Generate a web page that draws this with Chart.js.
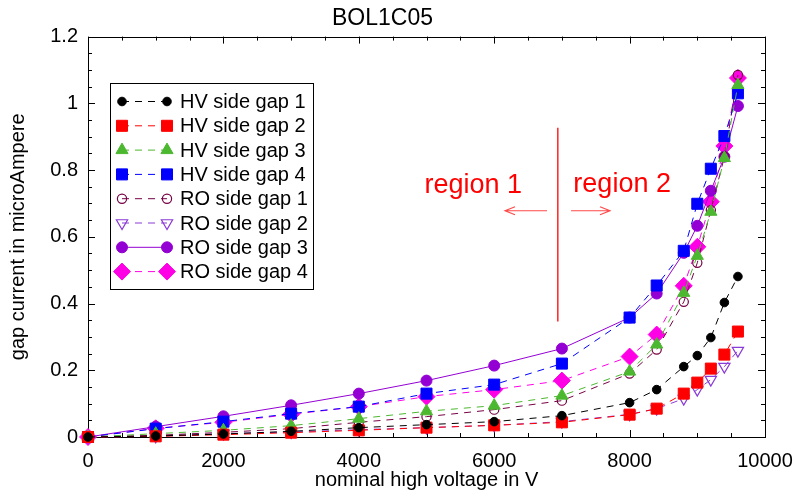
<!DOCTYPE html>
<html>
<head>
<meta charset="utf-8">
<script src="https://cdn.jsdelivr.net/npm/chart.js@4.4.0/dist/chart.umd.min.js"></script>
<style>
  html, body { margin: 0; background: #fff; }
</style>
</head>
<body>
<canvas id="gapChart" width="794" height="497"></canvas>
<script>
// nominal HV set points (V)
const voltage = [0, 1000, 2000, 3000, 4000, 5000, 6000, 7000, 8000, 8400, 8800, 9000, 9200, 9400, 9600];

// gap currents in microAmpere
const hvGap1 = [0, 0.003, 0.009, 0.017, 0.028, 0.037, 0.046, 0.064, 0.103, 0.142, 0.211, 0.244, 0.298, 0.403, 0.481];
const hvGap2 = [0, 0.002, 0.007, 0.013, 0.020, 0.028, 0.035, 0.044, 0.067, 0.085, 0.130, 0.163, 0.205, 0.247, 0.316];
const hvGap3 = [0, 0.010, 0.020, 0.034, 0.055, 0.077, 0.094, 0.124, 0.196, 0.277, 0.432, 0.543, 0.675, 0.836, 1.055];
const hvGap4 = [0, 0.025, 0.046, 0.070, 0.091, 0.130, 0.157, 0.220, 0.358, 0.454, 0.558, 0.699, 0.804, 0.902, 1.030];
const roGap1 = [0, 0.005, 0.014, 0.025, 0.044, 0.061, 0.082, 0.109, 0.190, 0.262, 0.405, 0.522, 0.680, 0.840, 1.085];
const roGap2 = [0, 0.002, 0.010, 0.015, 0.022, 0.028, 0.035, 0.046, 0.068, 0.085, 0.115, 0.142, 0.172, 0.211, 0.259];
const roGap3 = [0, 0.031, 0.062, 0.095, 0.130, 0.169, 0.214, 0.265, 0.358, 0.430, 0.552, 0.633, 0.738, 0.840, 0.992];
const roGap4 = [0, 0.026, 0.044, 0.068, 0.091, 0.121, 0.142, 0.169, 0.241, 0.307, 0.453, 0.570, 0.705, 0.872, 1.076];

const seriesLabels = ['HV side gap 1', 'HV side gap 2', 'HV side gap 3', 'HV side gap 4',
                      'RO side gap 1', 'RO side gap 2', 'RO side gap 3', 'RO side gap 4'];

// region separator and arrows (data coords)
const regionLineX = 6940;
const regionLineY = [0.346, 0.927];

const FONT = '"Liberation Sans", Arial, Helvetica, sans-serif';
const DASH = [7, 6];

function pts(values) {
  return voltage.map((v, i) => ({ x: v, y: values[i] }));
}

function series(label, values, color, style, radius, opts) {
  return Object.assign({
    label: label,
    data: pts(values),
    borderColor: color,
    backgroundColor: color,
    pointBorderColor: color,
    pointBackgroundColor: color,
    pointStyle: style,
    pointRadius: radius,
    pointBorderWidth: 1,
    pointRotation: 0,
    borderWidth: 1,
    borderDash: DASH,
    showLine: true,
    clip: false
  }, opts || {});
}

const datasets = [
  series(seriesLabels[0], hvGap1, '#000000', 'circle', 4.3),
  series(seriesLabels[1], hvGap2, '#ff0000', 'rect', 7.8),
  series(seriesLabels[2], hvGap3, '#4cb830', 'triangle', 7),
  series(seriesLabels[3], hvGap4, '#0000ff', 'rect', 7.8),
  series(seriesLabels[4], roGap1, '#770044', 'circle', 4.6, { pointBackgroundColor: 'rgba(0,0,0,0)', pointBorderWidth: 1.2 }),
  series(seriesLabels[5], roGap2, '#8a3ad6', 'triangle', 6.5, { pointBackgroundColor: 'rgba(0,0,0,0)', pointRotation: 180, pointBorderWidth: 1.2 }),
  series(seriesLabels[6], roGap3, '#9400d3', 'circle', 5.5, { borderDash: [] }),
  series(seriesLabels[7], roGap4, '#ff00e6', 'rectRot', 8.5)
];

function drawMarker(ctx, ds, x, y) {
  ctx.save();
  ctx.setLineDash([]);
  ctx.fillStyle = ds.pointBackgroundColor;
  ctx.strokeStyle = ds.pointBorderColor;
  ctx.lineWidth = ds.pointBorderWidth;
  Chart.helpers.drawPoint(ctx, {
    pointStyle: ds.pointStyle,
    rotation: ds.pointRotation,
    radius: ds.pointRadius,
    borderWidth: ds.pointBorderWidth
  }, x, y);
  ctx.restore();
}

// frame with inward ticks on all four sides
const framePlugin = {
  id: 'frame',
  beforeDatasetsDraw(chart) {
    const { ctx, chartArea: a, scales } = chart;
    ctx.save();
    ctx.strokeStyle = '#000';
    ctx.lineWidth = 1;
    ctx.beginPath();
    for (let v = 0; v <= 10000; v += 500) {
      const px = Math.round(scales.x.getPixelForValue(v)) + 0.5;
      const len = v % 2000 === 0 ? 7 : 4;
      ctx.moveTo(px, a.bottom); ctx.lineTo(px, a.bottom - len);
      ctx.moveTo(px, a.top); ctx.lineTo(px, a.top + len);
    }
    for (let i = 0; i <= 24; i++) {
      const py = Math.round(scales.y.getPixelForValue(i * 0.05)) + 0.5;
      const len = i % 4 === 0 ? 7 : 4;
      ctx.moveTo(a.left, py); ctx.lineTo(a.left + len, py);
      ctx.moveTo(a.right, py); ctx.lineTo(a.right - len, py);
    }
    ctx.stroke();
    ctx.strokeRect(Math.round(a.left) + 0.5, Math.round(a.top) + 0.5,
                   Math.round(a.right - a.left), Math.round(a.bottom - a.top));
    ctx.restore();
  }
};

// region 1 / region 2 annotation
const regionPlugin = {
  id: 'regions',
  beforeDatasetsDraw(chart) {
    const { ctx, scales } = chart;
    const X = v => scales.x.getPixelForValue(v);
    const Y = v => scales.y.getPixelForValue(v);
    ctx.save();
    ctx.strokeStyle = '#ff0000';
    ctx.lineWidth = 1.3;
    ctx.beginPath();
    ctx.moveTo(X(regionLineX), Y(regionLineY[0]));
    ctx.lineTo(X(regionLineX), Y(regionLineY[1]));
    ctx.stroke();

    function arrow(x0, x1, yv) {
      const y = Y(yv), a = X(x0), b = X(x1);
      const dir = b > a ? 1 : -1;
      ctx.beginPath();
      ctx.moveTo(a, y); ctx.lineTo(b, y);
      ctx.moveTo(b - dir * 10, y - 4); ctx.lineTo(b, y); ctx.lineTo(b - dir * 10, y + 4);
      ctx.stroke();
    }
    ctx.strokeStyle = '#ff4a4a';
    ctx.lineWidth = 1.2;
    arrow(6780, 6160, 0.678);
    arrow(7135, 7710, 0.678);

    ctx.fillStyle = '#ff0000';
    ctx.font = '27px ' + FONT;
    ctx.textAlign = 'center';
    ctx.textBaseline = 'middle';
    ctx.fillText('region 1', X(5690), Y(0.753));
    ctx.fillText('region 2', X(7890), Y(0.757));
    ctx.restore();
  }
};

// gnuplot-style key: marker - - - marker  label
const keyPlugin = {
  id: 'key',
  afterDatasetsDraw(chart) {
    const { ctx } = chart;
    const boxX = 110.5, boxY = 83.5, boxW = 203, boxH = 206;
    ctx.save();
    ctx.fillStyle = '#fff';
    ctx.fillRect(boxX, boxY, boxW, boxH);
    ctx.strokeStyle = '#000';
    ctx.lineWidth = 1;
    ctx.strokeRect(boxX, boxY, boxW, boxH);
    chart.data.datasets.forEach((ds, i) => {
      const y = 101.5 + i * 24.3;
      ctx.save();
      ctx.strokeStyle = ds.borderColor;
      ctx.lineWidth = ds.borderWidth;
      ctx.setLineDash(ds.borderDash);
      ctx.beginPath();
      ctx.moveTo(122, y); ctx.lineTo(167, y);
      ctx.stroke();
      ctx.restore();
      drawMarker(ctx, ds, 122, y);
      drawMarker(ctx, ds, 167, y);
      ctx.fillStyle = '#000';
      ctx.font = '20px ' + FONT;
      ctx.textAlign = 'left';
      ctx.textBaseline = 'middle';
      ctx.fillText(ds.label, 180, y + 1);
    });
    ctx.restore();
  }
};

new Chart(document.getElementById('gapChart'), {
  type: 'scatter',
  data: { datasets: datasets },
  options: {
    responsive: false,
    animation: false,
    devicePixelRatio: 1,
    layout: { padding: { left: 0, right: 29, top: 0, bottom: 0 } },
    elements: { line: { tension: 0 } },
    plugins: {
      legend: { display: false },
      tooltip: { enabled: false },
      title: {
        display: true,
        text: 'BOL1C05',
        color: '#000',
        font: { family: FONT, size: 23, weight: 'normal' },
        padding: { top: 5, bottom: 4 }
      }
    },
    scales: {
      x: {
        type: 'linear',
        min: 0,
        max: 10000,
        ticks: { stepSize: 2000, color: '#000', font: { family: FONT, size: 20 }, padding: 12, maxRotation: 0,
                 callback: v => String(v) },
        grid: { display: false, drawTicks: false },
        border: { display: false },
        title: { display: true, text: 'nominal high voltage in V', color: '#000',
                 font: { family: FONT, size: 20 }, padding: { top: 0, bottom: 5 } },
        afterFit: s => { s.height = 60; s.paddingRight = 0; }
      },
      y: {
        type: 'linear',
        min: 0,
        max: 1.2,
        ticks: { stepSize: 0.2, color: '#000', font: { family: FONT, size: 20 }, padding: 10,
                 callback: v => String(Number(v.toFixed(1))) },
        grid: { display: false, drawTicks: false },
        border: { display: false },
        title: { display: true, text: 'gap current in microAmpere', color: '#000',
                 font: { family: FONT, size: 20 }, padding: { top: 6, bottom: 0 } },
        afterFit: s => { s.width = 88; }
      }
    }
  },
  plugins: [framePlugin, regionPlugin, keyPlugin]
});
</script>
</body>
</html>
